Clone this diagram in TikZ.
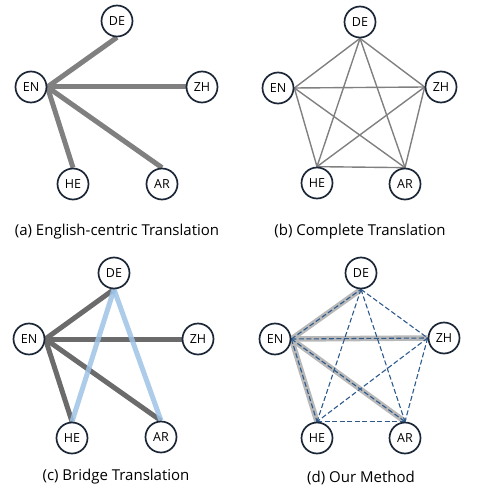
\documentclass[tikz,border=0pt]{standalone}
\usepackage{fontspec}
\setmainfont{Open Sans}
\usetikzlibrary{backgrounds}
\definecolor{navy}{HTML}{1B2636}
\definecolor{lgray}{HTML}{808080}
\definecolor{dgray}{HTML}{6B6B6B}
\definecolor{hgray}{HTML}{B8B8B8}
\definecolor{lblue}{HTML}{9DC3E6}
\definecolor{dblue}{HTML}{2E5A8C}
\tikzset{
  lang/.style={circle,draw=navy,line width=1.7pt,fill=white,minimum size=31pt,inner sep=0pt,font=\fontsize{12.5}{14}\selectfont},
  captext/.style={font=\fontsize{15}{17}\selectfont,inner sep=0pt},
  thickgray/.style={draw=lgray,line width=5pt},
  darkgray/.style={draw=dgray,line width=5pt},
  thingray/.style={draw=lgray,line width=1.4pt},
  bluebridge/.style={draw=lblue,line width=5pt},
  highlight/.style={draw=hgray,line width=5.5pt},
  dashblue/.style={draw=dblue,line width=1.1pt,dash pattern=on 5pt off 2.5pt},
}
\begin{document}
\begin{tikzpicture}[x=1pt,y=-1pt]
\useasboundingbox (0,0) rectangle (480,497);
% (a)
\node[lang] (aDE) at (117,21) {DE};
\node[lang] (aEN) at (31,87) {EN};
\node[lang] (aZH) at (202,87) {ZH};
\node[lang] (aHE) at (73,184) {HE};
\node[lang] (aAR) at (162,184) {AR};
\node[captext] (acap) at (117,232) {(a) English-centric Translation};
\begin{pgfonlayer}{background}
\draw[thickgray] (aEN.east) -- (aDE.south);
\draw[thickgray] (aEN.east) -- (aZH.west);
\draw[thickgray] (aEN.east) -- (aHE.north);
\draw[thickgray] (aEN.east) -- (aAR.north);
\end{pgfonlayer}
% (b)
\node[lang] (bDE) at (360,22) {DE};
\node[lang] (bEN) at (278,88) {EN};
\node[lang] (bZH) at (441,87) {ZH};
\node[lang] (bHE) at (317,183) {HE};
\node[lang] (bAR) at (405,184) {AR};
\node[captext] (bcap) at (360,232) {(b) Complete Translation};
\begin{pgfonlayer}{background}
\draw[thingray] (bEN.east) -- (bDE.south);
\draw[thingray] (bEN.east) -- (bZH.west);
\draw[thingray] (bEN.east) -- (bHE.north);
\draw[thingray] (bEN.east) -- (bAR.north);
\draw[thingray] (bDE.south) -- (bZH.west);
\draw[thingray] (bDE.south) -- (bHE.north);
\draw[thingray] (bDE.south) -- (bAR.north);
\draw[thingray] (bZH.west) -- (bHE.north);
\draw[thingray] (bZH.west) -- (bAR.north);
\draw[thingray] (bHE.north) -- (bAR.north);
\end{pgfonlayer}
% (c)
\node[lang] (cDE) at (114,273) {DE};
\node[lang] (cEN) at (29,339) {EN};
\node[lang] (cZH) at (198,339) {ZH};
\node[lang] (cHE) at (72,438) {HE};
\node[lang] (cAR) at (161,437) {AR};
\node[captext] (ccap) at (116,477) {(c) Bridge Translation};
\begin{pgfonlayer}{background}
\draw[darkgray] (cEN.east) -- (cDE.south);
\draw[darkgray] (cEN.east) -- (cZH.west);
\draw[darkgray] (cEN.east) -- (cHE.north);
\draw[darkgray] (cEN.east) -- (cAR.north);
\draw[bluebridge,opacity=0.85] (cDE.south) -- (cHE.north);
\draw[bluebridge,opacity=0.85] (cDE.south) -- (cAR.north);
\end{pgfonlayer}
% (d)
\node[lang] (dDE) at (361,273) {DE};
\node[lang] (dEN) at (275,339) {EN};
\node[lang] (dZH) at (444,338) {ZH};
\node[lang] (dHE) at (317,438) {HE};
\node[lang] (dAR) at (405,438) {AR};
\node[captext] (dcap) at (361,478) {(d) Our Method};
\begin{pgfonlayer}{background}
\draw[highlight] (dEN.east) -- (dDE.south);
\draw[highlight] (dEN.east) -- (dZH.west);
\draw[highlight] (dEN.east) -- (dHE.north);
\draw[highlight] (dEN.east) -- (dAR.north);
\draw[dashblue] (dEN.east) -- (dDE.south);
\draw[dashblue] (dEN.east) -- (dZH.west);
\draw[dashblue] (dEN.east) -- (dHE.north);
\draw[dashblue] (dEN.east) -- (dAR.north);
\draw[dashblue] (dDE.south) -- (dZH.west);
\draw[dashblue] (dDE.south) -- (dHE.north);
\draw[dashblue] (dDE.south) -- (dAR.north);
\draw[dashblue] (dZH.west) -- (dHE.north);
\draw[dashblue] (dZH.west) -- (dAR.north);
\draw[dashblue] (dHE.north) -- (dAR.north);
\end{pgfonlayer}
\end{tikzpicture}
\end{document}
